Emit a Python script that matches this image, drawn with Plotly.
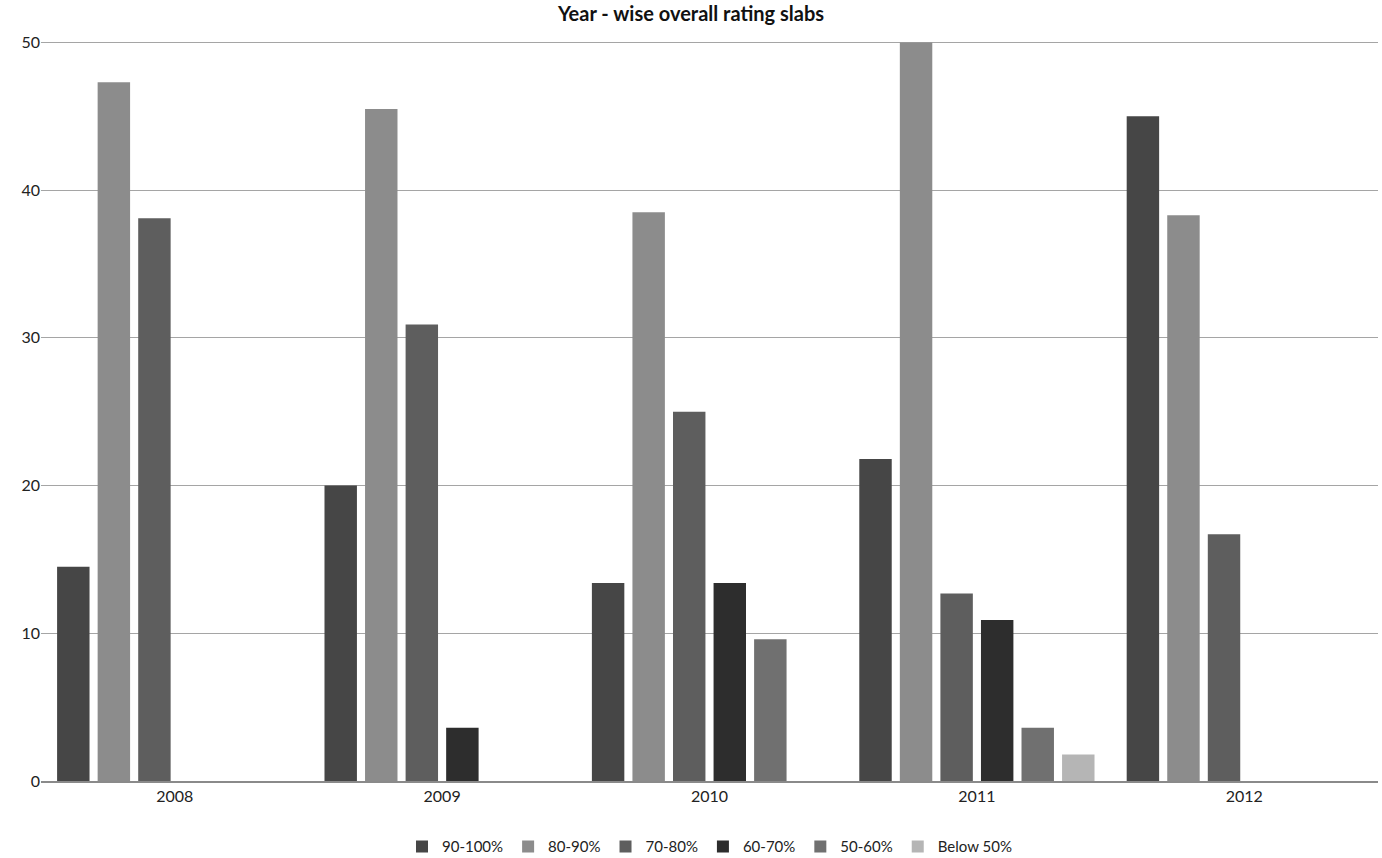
import plotly.graph_objects as go

# Survey years and rating slabs
years = ["2008", "2009", "2010", "2011", "2012"]
slabs = ["90-100%", "80-90%", "70-80%", "60-70%", "50-60%", "Below 50%"]

# Percentage of ratings per slab, one list per slab (in year order)
slab_90_100 = [14.5, 20.0, 13.4, 21.8, 45.0]
slab_80_90 = [47.3, 45.5, 38.5, 50.0, 38.3]
slab_70_80 = [38.1, 30.9, 25.0, 12.7, 16.7]
slab_60_70 = [0, 3.6, 13.4, 10.9, 0]
slab_50_60 = [0, 0, 9.6, 3.6, 0]
slab_below_50 = [0, 0, 0, 1.8, 0]

series = [slab_90_100, slab_80_90, slab_70_80, slab_60_70, slab_50_60, slab_below_50]
colors = ["#464646", "#8c8c8c", "#5e5e5e", "#2d2d2d", "#707070", "#b5b5b5"]

font_family = "Lato, 'Open Sans', sans-serif"

fig = go.Figure()
for name, vals, col in zip(slabs, series, colors):
    fig.add_trace(go.Bar(
        x=years, y=vals, name=name,
        marker=dict(color=col, line=dict(width=0)),
    ))

fig.update_layout(
    width=1382, height=858,
    margin=dict(l=41, r=4, t=41, b=77, autoexpand=False),
    paper_bgcolor="white", plot_bgcolor="white",
    barmode="group", bargap=0.09, bargroupgap=0.2,
    title=dict(text="<b>Year - wise overall rating slabs</b>", x=0.5, xanchor="center",
               y=0.992, yanchor="top",
               font=dict(family=font_family, size=20, color="#111111")),
    font=dict(family=font_family, size=15, color="#222222"),
    showlegend=True,
    legend=dict(orientation="h", x=0.5, xanchor="center",
                yref="container", y=0.013, yanchor="middle",
                font=dict(size=15, color="#222222"),
                traceorder="normal"),
)
fig.update_xaxes(showline=True, linecolor="#8a8a8a", linewidth=1.5,
                 ticks="", tickfont=dict(size=16, color="#222222"))
fig.update_yaxes(range=[0, 50.1], tickvals=[0, 10, 20, 30, 40, 50], showgrid=True,
                 gridcolor="#a5a5a5", gridwidth=1, zeroline=False, showline=False,
                 ticks="", tickfont=dict(size=16, color="#222222"))

fig.write_html("out.html")
